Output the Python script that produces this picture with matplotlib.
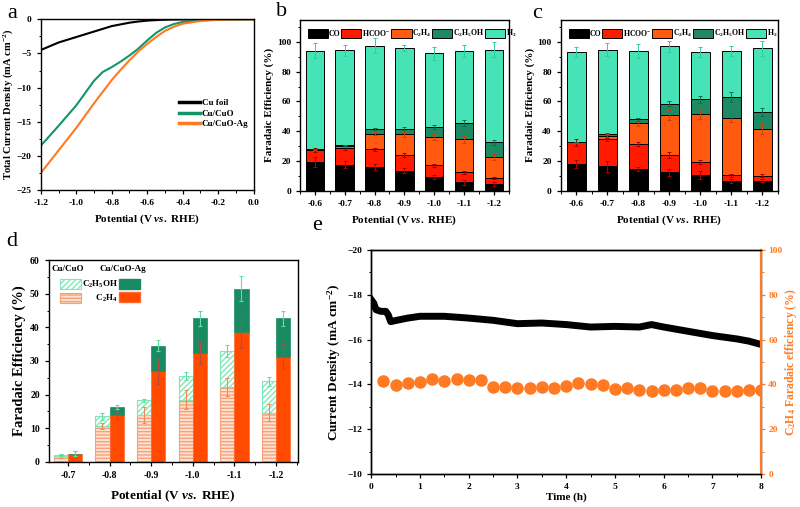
import numpy as np
import matplotlib
matplotlib.use('Agg')
import matplotlib.pyplot as plt
from matplotlib.patches import Patch
from matplotlib.lines import Line2D
from matplotlib.ticker import MultipleLocator

plt.rcParams['font.family'] = 'Liberation Serif'
plt.rcParams['font.weight'] = 'bold'
plt.rcParams['axes.labelweight'] = 'bold'
plt.rcParams['mathtext.fontset'] = 'custom'
plt.rcParams['mathtext.rm'] = 'Liberation Serif:bold'
plt.rcParams['mathtext.bf'] = 'Liberation Serif:bold'
plt.rcParams['mathtext.it'] = 'Liberation Serif:italic:bold'
plt.rcParams['axes.linewidth'] = 1.0
plt.rcParams['xtick.major.width'] = 0.9
plt.rcParams['ytick.major.width'] = 0.9
plt.rcParams['xtick.minor.width'] = 0.7
plt.rcParams['ytick.minor.width'] = 0.7
plt.rcParams['xtick.major.size'] = 3
plt.rcParams['ytick.major.size'] = 3
plt.rcParams['xtick.minor.size'] = 1.8
plt.rcParams['ytick.minor.size'] = 1.8

TICK_FS = 6.8
LABEL_FS = 8

# ---- panel a: LSV ----
potential = [-1.2, -1.1, -1.0, -0.9, -0.85, -0.8, -0.75, -0.7, -0.65, -0.6, -0.55, -0.5,
             -0.45, -0.4, -0.3, -0.2, -0.1, 0.0]
j_cu_foil = [-4.5, -3.4, -2.6, -1.8, -1.4, -1.0, -0.75, -0.5, -0.33, -0.2, -0.12, -0.07,
             -0.04, -0.03, -0.01, 0.0, 0.0, 0.0]
j_cu_cuo = [-18.5, -15.6, -12.6, -9.0, -7.7, -7.0, -6.2, -5.3, -4.3, -3.1, -2.0, -1.2,
            -0.7, -0.4, -0.15, -0.05, -0.02, 0.0]
j_cu_cuo_ag = [-22.5, -19.2, -15.9, -12.3, -10.6, -8.9, -7.4, -6.0, -4.7, -3.6, -2.6, -1.7,
               -1.1, -0.65, -0.25, -0.08, -0.02, 0.0]

# ---- panels b, c: product distribution ----
pot_labels = ['-0.6', '-0.7', '-0.8', '-0.9', '-1.0', '-1.1', '-1.2']
products = ['CO', 'HCOO$^{-}$', 'C$_2$H$_4$', 'C$_2$H$_5$OH', 'H$_2$']

fe_b = {
    'CO':     [19.2, 17.4, 16.1, 13.4, 9.2, 5.6, 4.5],
    'HCOO':   [8.1, 11.5, 11.6, 10.5, 7.8, 6.7, 3.8],
    'C2H4':   [0.4, 1.1, 10.6, 13.9, 18.8, 22.2, 14.5],
    'C2H5OH': [0.3, 0.6, 3.3, 4.0, 7.2, 10.9, 9.6],
    'H2':     [66.2, 63.8, 55.9, 54.2, 49.4, 48.6, 62.5],
}
err_b = {
    'CO':     [3.5, 2.5, 2.0, 1.5, 1.2, 1.5, 1.5],
    'HCOO':   [1.5, 1.5, 1.2, 1.5, 1.0, 0.8, 0.8],
    'C2H4':   [0.3, 0.5, 1.0, 1.5, 2.0, 2.5, 2.0],
    'C2H5OH': [0.3, 0.3, 0.8, 1.0, 1.5, 2.0, 1.5],
    'H2':     [5.1, 3.8, 5.2, 2.2, 4.2, 3.8, 5.1],
}
fe_c = {
    'CO':     [17.9, 16.3, 14.5, 12.3, 10.5, 6.5, 6.7],
    'HCOO':   [14.5, 18.4, 17.0, 11.6, 8.7, 3.8, 3.4],
    'C2H4':   [0.1, 2.4, 13.7, 26.9, 32.3, 38.7, 31.3],
    'C2H5OH': [0.2, 0.9, 2.7, 7.8, 10.0, 14.1, 11.6],
    'H2':     [60.6, 56.9, 46.1, 38.5, 31.6, 30.6, 42.7],
}
err_c = {
    'CO':     [2.7, 3.8, 1.6, 2.5, 2.8, 1.5, 1.2],
    'HCOO':   [2.3, 1.0, 1.2, 1.8, 1.2, 0.8, 0.8],
    'C2H4':   [0.3, 0.8, 1.5, 3.5, 3.5, 3.0, 3.5],
    'C2H5OH': [0.3, 0.5, 1.0, 1.8, 2.2, 3.5, 2.5],
    'H2':     [3.3, 4.4, 4.4, 3.9, 3.3, 3.4, 5.0],
}

# ---- panel d: C2 products ----
d_labels = ['-0.7', '-0.8', '-0.9', '-1.0', '-1.1', '-1.2']
cuo_c2h4 = [1.7, 10.7, 14.0, 18.5, 22.2, 14.6]
cuo_c2h5oh = [0.3, 2.8, 4.3, 7.0, 10.9, 9.3]
cuo_c2h4_err = [0.4, 1.0, 2.4, 2.8, 2.7, 2.5]
cuo_total_err = [0.3, 0.9, 0.5, 1.3, 1.8, 1.3]
ag_c2h4 = [2.4, 13.8, 26.9, 32.4, 38.6, 31.3]
ag_c2h5oh = [0.0, 2.5, 7.7, 10.3, 12.9, 11.4]
ag_c2h4_err = [0.7, 1.0, 3.6, 3.2, 4.6, 3.7]
ag_total_err = [0.7, 0.6, 1.6, 2.2, 3.7, 2.2]

# ---- panel e: stability ----
time_j = [0.0, 0.05, 0.1, 0.2, 0.3, 0.35, 0.4, 0.5, 0.75, 1.0, 1.5, 2.0, 2.5, 3.0, 3.5,
          4.0, 4.5, 5.0, 5.5, 5.75, 6.0, 6.5, 7.0, 7.5, 7.75, 8.0]
j_stab = [-17.78, -17.63, -17.33, -17.26, -17.26, -17.1, -16.8, -16.85, -16.96, -17.04,
          -17.04, -16.96, -16.86, -16.71, -16.74, -16.67, -16.56, -16.59, -16.56, -16.67,
          -16.56, -16.37, -16.18, -16.03, -15.93, -15.78]
time_fe = [0.25, 0.5, 0.75, 1.0, 1.25, 1.5, 1.75, 2.0, 2.25, 2.5, 2.75, 3.0, 3.25, 3.5,
           3.75, 4.0, 4.25, 4.5, 4.75, 5.0, 5.25, 5.5, 5.75, 6.0, 6.25, 6.5, 6.75, 7.0,
           7.25, 7.5, 7.75, 8.0]
fe_c2h4 = [41.4, 39.6, 40.7, 41.1, 42.6, 41.7, 42.2, 41.9, 41.9, 38.9, 38.9, 38.6, 38.6,
           38.9, 38.6, 39.2, 40.7, 40.1, 39.6, 38.0, 38.5, 37.7, 37.0, 37.4, 37.7, 38.5,
           38.5, 37.0, 37.1, 37.0, 37.7, 37.3]

BLACK = '#000000'
GREEN = '#13956a'
ORANGE = '#ff7a22'
prod_colors = {'CO': '#000000', 'HCOO': '#ff1a00', 'C2H4': '#ff5a10',
               'C2H5OH': '#1e8a64', 'H2': '#45e3b5'}
err_colors = {'CO': '#b00000', 'HCOO': '#a00000', 'C2H4': '#c84000',
              'C2H5OH': '#0e6e4a', 'H2': '#2ecf9c'}
prod_keys = ['CO', 'HCOO', 'C2H4', 'C2H5OH', 'H2']

xlab = 'Potential (V $\\mathit{vs.}$ RHE)'

fig = plt.figure(figsize=(8, 5.07), dpi=100)


def style_ticks(ax, size=TICK_FS):
    ax.tick_params(axis='both', which='both', labelsize=size, direction='out')
    for lab in ax.get_xticklabels() + ax.get_yticklabels():
        lab.set_fontweight('bold')


# panel a
ax_a = fig.add_axes([0.051, 0.625, 0.266, 0.337])
ax_a.plot(potential, j_cu_foil, color=BLACK, lw=1.5, label='Cu foil')
ax_a.plot(potential, j_cu_cuo, color=GREEN, lw=1.5, label='Cu/CuO')
ax_a.plot(potential, j_cu_cuo_ag, color=ORANGE, lw=1.5, label='Cu/CuO-Ag')
ax_a.set_xlim(-1.2, 0.0)
ax_a.set_ylim(-25, 0)
ax_a.xaxis.set_major_locator(MultipleLocator(0.2))
ax_a.xaxis.set_minor_locator(MultipleLocator(0.1))
ax_a.yaxis.set_major_locator(MultipleLocator(5))
ax_a.yaxis.set_minor_locator(MultipleLocator(2.5))
ax_a.xaxis.set_major_formatter(plt.FuncFormatter(lambda v, p: f'{v:.1f}'))
ax_a.set_xlabel(xlab, fontsize=LABEL_FS)
ax_a.set_ylabel('Total Current Density (mA cm$^{-2}$)', fontsize=7.6, labelpad=1)
style_ticks(ax_a)
ax_a.legend(handles=[Line2D([], [], color=c, lw=2.5) for c in (BLACK, GREEN, ORANGE)],
            labels=['Cu foil', 'Cu/CuO', 'Cu/CuO-Ag'], loc='upper left',
            bbox_to_anchor=(0.63, 0.56), frameon=False, fontsize=6.5,
            handlelength=2.3, handletextpad=0.2, labelspacing=0.25, borderpad=0)


def product_panel(rect, fe, err):
    ax = fig.add_axes(rect)
    x = np.arange(len(pot_labels))
    bottom = np.zeros(len(pot_labels))
    for k in prod_keys:
        vals = np.array(fe[k])
        ax.bar(x, vals, 0.62, bottom=bottom, color=prod_colors[k], edgecolor='black', lw=0.7,
               zorder=2)
        ax.errorbar(x, bottom + vals, yerr=err[k], fmt='none', ecolor=err_colors[k],
                    elinewidth=0.7, capsize=1.5, capthick=0.7, zorder=3)
        bottom = bottom + vals
    ax.set_xlim(-0.5, 6.5)
    ax.set_ylim(0, 115)
    ax.set_xticks(x)
    ax.set_xticklabels(pot_labels)
    ax.xaxis.set_minor_locator(MultipleLocator(0.5))
    ax.yaxis.set_major_locator(MultipleLocator(20))
    ax.yaxis.set_minor_locator(MultipleLocator(10))
    ax.set_xlabel(xlab, fontsize=LABEL_FS)
    ax.set_ylabel('Faradaic Efficiency (%)', fontsize=LABEL_FS, labelpad=2)
    style_ticks(ax)
    handles = [Patch(facecolor=prod_colors[k], edgecolor='black', lw=0.7) for k in prod_keys]
    ax.legend(handles=handles, labels=products, ncol=5, loc='upper left',
              bbox_to_anchor=(0.02, 0.975), frameon=False, fontsize=5.6, handlelength=2.6,
              handleheight=1.5, handletextpad=0.05, columnspacing=0.12, borderpad=0)
    return ax


ax_b = product_panel([0.375, 0.624, 0.261, 0.337], fe_b, err_b)
ax_c = product_panel([0.701, 0.624, 0.271, 0.337], fe_c, err_c)

# panel d
ax_d = fig.add_axes([0.061, 0.089, 0.311, 0.398])
xd = np.arange(len(d_labels))
w = 0.34
cuo_tot = np.array(cuo_c2h4) + np.array(cuo_c2h5oh)
ag_tot = np.array(ag_c2h4) + np.array(ag_c2h5oh)
light_or = '#fde3d3'
ax_d.bar(xd - w / 2, cuo_c2h4, w, color=light_or, edgecolor='#f7a07a', hatch='-----', lw=0.8,
         zorder=2)
ax_d.bar(xd - w / 2, cuo_c2h5oh, w, bottom=cuo_c2h4, color='white', edgecolor='#7fe8b8',
         hatch='//////', lw=0.8, zorder=2)
ax_d.bar(xd + w / 2, ag_c2h4, w, color='#ff4a00', edgecolor='#ff6a30', lw=0.5, zorder=2)
ax_d.bar(xd + w / 2, ag_c2h5oh, w, bottom=ag_c2h4, color='#1a8a62', edgecolor='#1a8a62',
         lw=0.5, zorder=2)
ax_d.errorbar(xd - w / 2, cuo_c2h4, yerr=cuo_c2h4_err, fmt='none', ecolor='#f08a50',
              elinewidth=0.8, capsize=1.5, capthick=0.8, zorder=3)
ax_d.errorbar(xd - w / 2, cuo_tot, yerr=cuo_total_err, fmt='none', ecolor='#5fe0a0',
              elinewidth=0.8, capsize=1.5, capthick=0.8, zorder=3)
ax_d.errorbar(xd + w / 2, ag_c2h4, yerr=ag_c2h4_err, fmt='none', ecolor='#b84a3a',
              elinewidth=0.8, capsize=1.5, capthick=0.8, zorder=3)
ax_d.errorbar(xd + w / 2, ag_tot, yerr=ag_total_err, fmt='none', ecolor='#5fe0a0',
              elinewidth=0.8, capsize=1.5, capthick=0.8, zorder=3)
ax_d.set_xlim(-0.46, 5.52)
ax_d.set_ylim(0, 60)
ax_d.set_xticks(xd)
ax_d.set_xticklabels(d_labels)
ax_d.xaxis.set_minor_locator(MultipleLocator(0.5))
ax_d.yaxis.set_major_locator(MultipleLocator(10))
ax_d.yaxis.set_minor_locator(MultipleLocator(5))
ax_d.set_xlabel(xlab, fontsize=9.5, labelpad=6)
ax_d.set_ylabel('Faradaic Efficiency (%)', fontsize=10.5, labelpad=3)
style_ticks(ax_d, 7)
h_cuo_eth = Patch(facecolor='white', edgecolor='#7fe8b8', hatch='//////', lw=0.8)
h_cuo_c2h4 = Patch(facecolor=light_or, edgecolor='#f7a07a', hatch='-----', lw=0.8)
h_ag_eth = Patch(facecolor='#1a8a62', edgecolor='#1a8a62')
h_ag_c2h4 = Patch(facecolor='#ff4a00', edgecolor='#ff6a30')
ax_d.legend(handles=[h_cuo_eth, h_cuo_c2h4, h_ag_eth, h_ag_c2h4],
            labels=['C$_2$H$_5$OH', '      C$_2$H$_4$', '', ''], ncol=2, loc='upper left',
            bbox_to_anchor=(0.028, 0.93), frameon=False, fontsize=6.5, handlelength=2.3,
            handleheight=1.4, handletextpad=0.1, columnspacing=0.1, labelspacing=0.3,
            borderpad=0)
ax_d.text(0.012, 0.955, 'Cu/CuO', transform=ax_d.transAxes, fontsize=6.5, va='center')
ax_d.text(0.205, 0.955, 'Cu/CuO-Ag', transform=ax_d.transAxes, fontsize=6.5, va='center')

# panel e
ax_e = fig.add_axes([0.464, 0.065, 0.4875, 0.442])
ax_e.plot(time_j, j_stab, color=BLACK, lw=5.0, solid_joinstyle='round', zorder=2)
ax_e.set_xlim(0, 8)
ax_e.set_ylim(-10, -20)
ax_e.xaxis.set_major_locator(MultipleLocator(1))
ax_e.xaxis.set_minor_locator(MultipleLocator(0.5))
ax_e.yaxis.set_major_locator(MultipleLocator(2))
ax_e.yaxis.set_minor_locator(MultipleLocator(1))
ax_e.set_xlabel('Time (h)', fontsize=LABEL_FS, labelpad=1)
ax_e.set_ylabel('Current Density (mA cm$^{-2}$)', fontsize=9.5, labelpad=3)
style_ticks(ax_e)
ax_e2 = ax_e.twinx()
ax_e2.plot(time_fe, fe_c2h4, 'o', color=ORANGE, ms=8, mec=ORANGE, zorder=3)
ax_e2.set_ylim(0, 100)
ax_e2.yaxis.set_major_locator(MultipleLocator(20))
ax_e2.yaxis.set_minor_locator(MultipleLocator(10))
ax_e2.set_ylabel('C$_2$H$_4$ Faradaic efficiency (%)', fontsize=8.4, color=ORANGE,
                 labelpad=0.5)
ax_e2.tick_params(axis='y', which='both', labelsize=TICK_FS, colors=ORANGE, direction='out',
                  pad=2)
for lab in ax_e2.get_yticklabels():
    lab.set_fontweight('bold')
ax_e2.spines['right'].set_color(ORANGE)
ax_e2.spines['right'].set_linewidth(1.6)

# panel letters
for ch, x, y in [('a', 12, 13), ('b', 282, 12), ('c', 537, 13), ('d', 12, 242), ('e', 317, 226)]:
    fig.text(x / 800, 1 - y / 507, ch, fontsize=16, fontweight='normal', ha='center',
             va='center')

fig.savefig('out.png', dpi=100)
